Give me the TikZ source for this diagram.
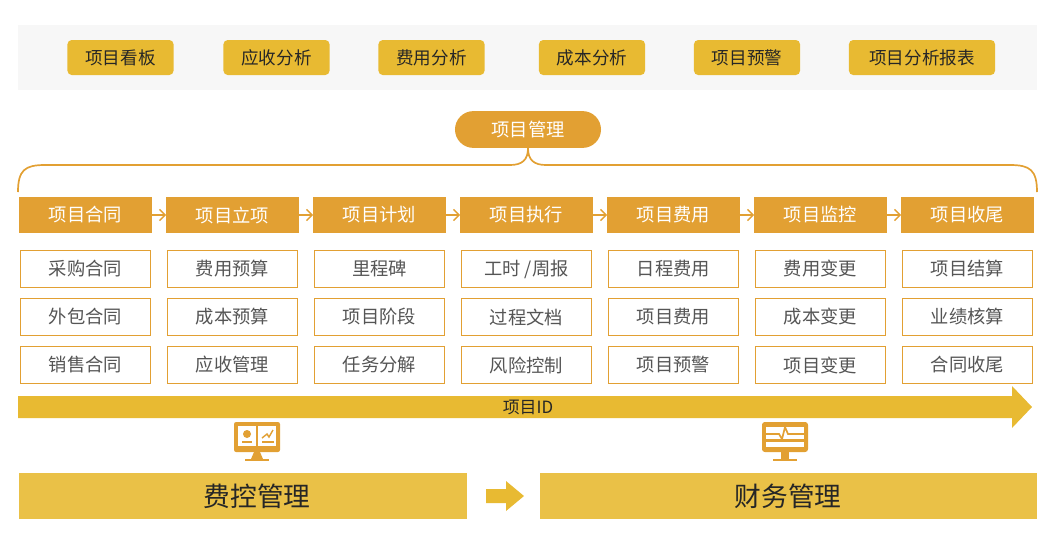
\documentclass[tikz,border=0pt]{standalone}
\usepackage{fontspec}
\setmainfont{Noto Sans CJK SC}
\usetikzlibrary{positioning,arrows.meta}
\definecolor{gold}{HTML}{E8BA32}
\definecolor{orng}{HTML}{E2A033}
\definecolor{band}{HTML}{F7F7F7}
\definecolor{txt}{HTML}{555555}
\tikzset{
    tab/.style={rectangle, rounded corners=3pt, fill=gold, minimum width=#1, minimum height=0.875cm, inner sep=0pt, font=\fontsize{12.5}{13}\selectfont, text=black!85},
    tab/.default=2.65cm,
    head/.style={rectangle, fill=orng, text=white, minimum width=3.3cm, minimum height=0.9cm, inner sep=0pt, font=\fontsize{13}{14}\selectfont},
    item/.style={rectangle, draw=orng, line width=1.2pt, fill=white, text=txt, minimum width=3.25cm, minimum height=0.92cm, inner sep=0pt, font=\fontsize{13}{14}\selectfont},
    flow/.style={-{Straight Barb[length=4pt,width=8pt]}, draw=orng, line width=1pt},
    big/.style={rectangle, fill=gold!90, minimum height=1.15cm, inner sep=0pt},
}
\begin{document}
\begin{tikzpicture}[x=0.025cm,y=-0.025cm]
    \useasboundingbox (0,0) rectangle (1060,548);

    % top band
    \fill[band] (18,25) rectangle (1037,90);
    \node[tab] (kanban) at (120.5,57.5) {项目看板};
    \node[tab] (yingshou) at (276.5,57.5) {应收分析};
    \node[tab] (feiyong) at (431.5,57.5) {费用分析};
    \node[tab] (chengben) at (592,57.5) {成本分析};
    \node[tab] (yujing) at (747,57.5) {项目预警};
    \node[tab=3.65cm] (baobiao) at (922,57.5) {项目分析报表};

    % project management
    \node[rectangle, rounded corners=0.46cm, fill=orng, text=white, minimum width=3.65cm, minimum height=0.92cm, font=\fontsize{13}{14}\selectfont] (xmgl) at (528,129.5) {项目管理};
    \draw[orng, line width=1.2pt] (18,192) .. controls (18,170) and (25,165) .. (45,165) -- (510,165)
        .. controls (522,165) and (528,160) .. (xmgl.south)
        .. controls (528,160) and (534,165) .. (546,165) -- (1010,165)
        .. controls (1030,165) and (1037,170) .. (1037,192);

    % stages
    \foreach \h/\a/\b/\c [count=\i from 0] in {
        项目合同/采购合同/外包合同/销售合同,
        项目立项/费用预算/成本预算/应收管理,
        项目计划/里程碑/项目阶段/任务分解,
        项目执行/{工时 /周报}/过程文档/风险控制,
        项目费用/日程费用/项目费用/项目预警,
        项目监控/费用变更/成本变更/项目变更,
        项目收尾/项目结算/业绩核算/合同收尾} {
        \pgfmathsetmacro\cx{85.5+147*\i}
        \node[head] (h\i) at (\cx,215) {\h};
        \node[item] (a\i) at (\cx,269) {\a};
        \node[item] (b\i) at (\cx,317) {\b};
        \node[item] (c\i) at (\cx,365) {\c};
    }
    \foreach \i [evaluate=\i as \j using int(\i+1)] in {0,...,5}
        \draw[flow] (h\i.east) -- (h\j.west);

    % project id
    \fill[gold] (18,396) -- (1012,396) -- (1012,386) -- (1032,407) -- (1012,428) -- (1012,418) -- (18,418) -- cycle;
    \node[font=\fontsize{12}{12}\selectfont, text=black!85] (xmid) at (528,407) {项目ID};

    % icons
    \begin{scope}[shift={(257,440)}]
        \fill[orng, rounded corners=1.5pt] (-23,-18) rectangle (23,12);
        \fill[white] (-19,-14) rectangle (-1,6);
        \fill[white] (1,-14) rectangle (19,6);
        \fill[orng] (-10,-6) circle (4);
        \draw[orng, line width=1pt] (-15,2) -- (-5,2) (5,2) -- (17,2);
        \draw[orng, line width=1pt] (5,-2) -- (10,-6) -- (12,-3) -- (16,-10);
        \fill[orng] (-3,12) -- (3,12) -- (6,19) -- (-6,19) -- cycle;
        \fill[orng] (-12,19) rectangle (12,21);
    \end{scope}
    \begin{scope}[shift={(785,440)}]
        \fill[orng, rounded corners=2pt] (-23,-18) rectangle (23,12);
        \fill[white] (-19,-13) rectangle (19,-1);
        \fill[white] (-19,2) rectangle (19,7);
        \draw[orng, line width=1.2pt] (-19,-6) -- (-6,-6) -- (-3,-1) -- (0,-13) -- (3,-6) -- (19,-6);
        \fill[orng] (-4,12) rectangle (4,19);
        \fill[orng] (-12,19) rectangle (12,21);
    \end{scope}

    % bottom
    \node[big, minimum width=11.2cm] (fkgl) at (243,496) {};
    \node (fkt) at (257,496) [font=\fontsize{19}{20}\selectfont, text=black!85] {费控管理};
    \node[big, minimum width=12.425cm] (cwgl) at (788.5,496) {};
    \node (cwt) at (788,496) [font=\fontsize{19}{20}\selectfont, text=black!85] {财务管理};
    \fill[gold] (486,489) -- (506,489) -- (506,481) -- (524,496) -- (506,511) -- (506,503) -- (486,503) -- cycle;
\end{tikzpicture}
\end{document}
